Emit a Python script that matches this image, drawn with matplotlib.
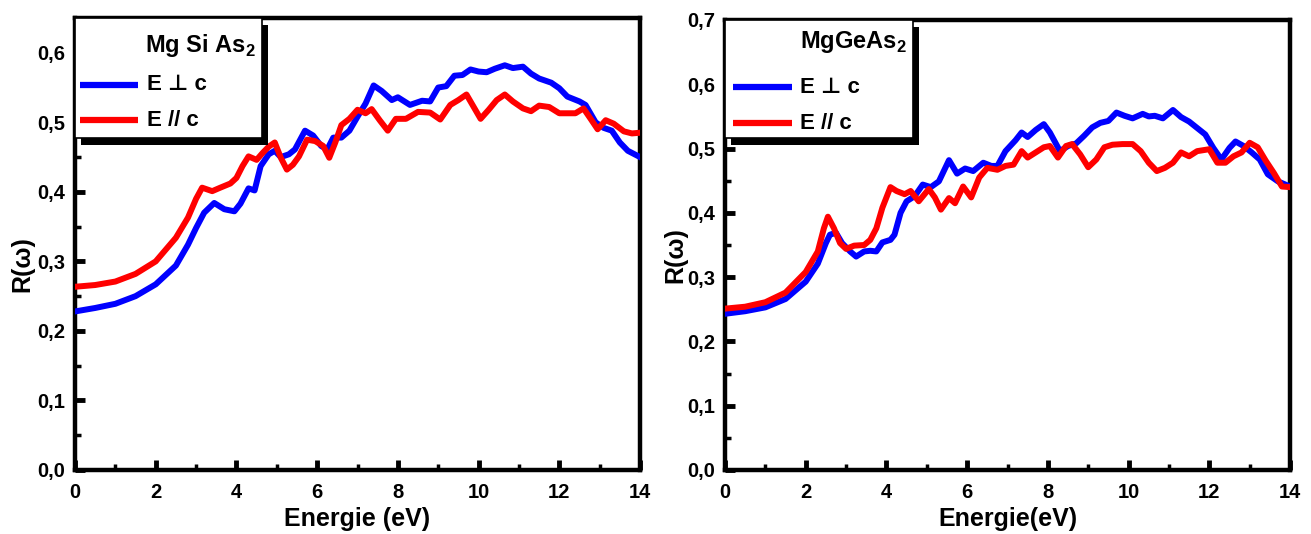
import matplotlib
matplotlib.use("Agg")
import matplotlib.pyplot as plt
from matplotlib.patches import Rectangle
from matplotlib.ticker import MultipleLocator, FuncFormatter

plt.rcParams["font.family"] = ["Liberation Sans", "DejaVu Sans"]
plt.rcParams["font.weight"] = "bold"
plt.rcParams["mathtext.fontset"] = "custom"
plt.rcParams["mathtext.rm"] = "Liberation Sans:bold"
plt.rcParams["mathtext.bf"] = "Liberation Sans:bold"

BLUE = "#0000ff"
RED = "#ff0000"

# ---- MgSiAs2 -------------------------------------------------------------
si_perp_e = [0, 0.5, 1, 1.5, 2, 2.5, 2.8, 3, 3.2, 3.45, 3.7, 3.95, 4.1, 4.3, 4.45, 4.6,
             4.8, 4.95, 5.1, 5.3, 5.45, 5.7, 5.9, 6.1, 6.25, 6.4, 6.6, 6.8, 7, 7.2, 7.4,
             7.6, 7.85, 8, 8.3, 8.6, 8.8, 9, 9.2, 9.4, 9.6, 9.8, 10, 10.2, 10.4, 10.65,
             10.85, 11.1, 11.3, 11.5, 11.8, 12, 12.2, 12.5, 12.65, 12.9, 13.1, 13.3, 13.5,
             13.7, 14]
si_perp_r = [0.228, 0.233, 0.239, 0.250, 0.267, 0.294, 0.324, 0.348, 0.370, 0.384, 0.375,
             0.372, 0.383, 0.405, 0.402, 0.437, 0.454, 0.459, 0.450, 0.454, 0.461, 0.488,
             0.481, 0.466, 0.461, 0.478, 0.478, 0.488, 0.508, 0.527, 0.553, 0.545, 0.532,
             0.536, 0.525, 0.531, 0.530, 0.550, 0.552, 0.567, 0.568, 0.576, 0.573, 0.572,
             0.577, 0.582, 0.578, 0.580, 0.570, 0.563, 0.557, 0.549, 0.537, 0.530, 0.525,
             0.500, 0.492, 0.488, 0.471, 0.459, 0.450]

si_par_e = [0, 0.5, 1, 1.5, 2, 2.5, 2.8, 3.0, 3.15, 3.4, 3.6, 3.85, 4.0, 4.15, 4.3, 4.5,
            4.65, 4.8, 4.95, 5.1, 5.25, 5.4, 5.55, 5.75, 5.95, 6.15, 6.3, 6.45, 6.6, 6.8,
            7.0, 7.2, 7.35, 7.55, 7.75, 7.95, 8.2, 8.5, 8.8, 9.05, 9.3, 9.5, 9.7, 9.85,
            10.05, 10.25, 10.45, 10.65, 10.85, 11.1, 11.3, 11.5, 11.75, 12.0, 12.2, 12.4,
            12.6, 12.8, 12.95, 13.15, 13.35, 13.6, 13.8, 14]
si_par_r = [0.2635, 0.266, 0.271, 0.282, 0.300, 0.334, 0.363, 0.390, 0.406, 0.401, 0.406,
            0.412, 0.420, 0.437, 0.451, 0.446, 0.456, 0.465, 0.471, 0.449, 0.432, 0.439,
            0.451, 0.475, 0.473, 0.466, 0.449, 0.471, 0.496, 0.505, 0.518, 0.513, 0.519,
            0.503, 0.488, 0.505, 0.505, 0.515, 0.514, 0.504, 0.525, 0.532, 0.540, 0.525,
            0.505, 0.518, 0.532, 0.540, 0.530, 0.520, 0.516, 0.524, 0.522, 0.513, 0.513,
            0.513, 0.520, 0.503, 0.490, 0.503, 0.498, 0.487, 0.484, 0.485]

# ---- MgGeAs2 -------------------------------------------------------------
ge_perp_e = [0, 0.5, 1, 1.5, 2, 2.3, 2.5, 2.6, 2.75, 2.9, 3.1, 3.25, 3.45, 3.6, 3.75, 3.9,
             4.1, 4.2, 4.35, 4.5, 4.7, 4.9, 5.1, 5.3, 5.55, 5.75, 5.95, 6.15, 6.4, 6.6,
             6.75, 6.95, 7.2, 7.35, 7.5, 7.7, 7.9, 8.05, 8.3, 8.5, 8.7, 8.9, 9.1, 9.3, 9.5,
             9.7, 9.9, 10.1, 10.35, 10.5, 10.65, 10.85, 11.1, 11.3, 11.5, 11.7, 11.9, 12.1,
             12.3, 12.5, 12.65, 12.85, 13.05, 13.25, 13.45, 13.7, 14]
ge_perp_r = [0.243, 0.247, 0.253, 0.266, 0.293, 0.321, 0.353, 0.366, 0.369, 0.353, 0.340,
             0.332, 0.340, 0.341, 0.340, 0.354, 0.358, 0.366, 0.400, 0.418, 0.426, 0.444,
             0.440, 0.449, 0.482, 0.461, 0.469, 0.465, 0.478, 0.473, 0.473, 0.496, 0.513,
             0.525, 0.518, 0.529, 0.538, 0.525, 0.496, 0.504, 0.508, 0.520, 0.533, 0.540,
             0.543, 0.556, 0.551, 0.547, 0.554, 0.550, 0.551, 0.547, 0.560, 0.549, 0.542,
             0.532, 0.522, 0.501, 0.483, 0.501, 0.511, 0.504, 0.494, 0.483, 0.460, 0.449,
             0.441]

ge_par_e = [0, 0.5, 1, 1.5, 2, 2.3, 2.45, 2.55, 2.7, 2.85, 3.0, 3.2, 3.45, 3.6, 3.75, 3.9,
            4.1, 4.25, 4.45, 4.6, 4.8, 5.05, 5.2, 5.35, 5.55, 5.7, 5.9, 6.1, 6.3, 6.5, 6.75,
            6.95, 7.15, 7.35, 7.5, 7.7, 7.9, 8.05, 8.25, 8.45, 8.6, 8.8, 9.0, 9.2, 9.4, 9.6,
            9.85, 10.1, 10.3, 10.5, 10.7, 10.9, 11.1, 11.3, 11.5, 11.7, 12.0, 12.2, 12.4,
            12.6, 12.8, 13.0, 13.2, 13.4, 13.6, 13.8, 14]
ge_par_r = [0.251, 0.254, 0.261, 0.276, 0.308, 0.340, 0.376, 0.394, 0.376, 0.353, 0.344,
            0.349, 0.350, 0.358, 0.376, 0.408, 0.440, 0.434, 0.429, 0.434, 0.418, 0.437,
            0.424, 0.405, 0.423, 0.415, 0.441, 0.424, 0.455, 0.470, 0.467, 0.473, 0.475,
            0.496, 0.486, 0.494, 0.502, 0.504, 0.486, 0.504, 0.507, 0.491, 0.471, 0.483,
            0.502, 0.506, 0.507, 0.507, 0.496, 0.478, 0.465, 0.470, 0.478, 0.494, 0.488,
            0.496, 0.499, 0.478, 0.478, 0.488, 0.494, 0.509, 0.502, 0.481, 0.462, 0.441,
            0.440]

labels = ["E \u22a5 c", "E // c"]


def comma_fmt(v, _pos):
    return f"{v:.1f}".replace(".", ",")


def style_axes(ax, ymax, xlabel):
    ax.set_xlim(0, 14)
    ax.set_ylim(0, ymax)
    ax.xaxis.set_major_locator(MultipleLocator(2))
    ax.xaxis.set_minor_locator(MultipleLocator(1))
    ax.yaxis.set_major_locator(MultipleLocator(0.1))
    ax.yaxis.set_minor_locator(MultipleLocator(0.05))
    ax.yaxis.set_major_formatter(FuncFormatter(comma_fmt))
    ax.tick_params(which="major", direction="in", length=7, width=3.5,
                   labelsize=14.5, top=False, right=False)
    ax.tick_params(axis="x", which="major", pad=9)
    ax.tick_params(axis="y", which="major", pad=7)
    ax.tick_params(which="minor", direction="in", length=4, width=2.5,
                   top=False, right=False)
    for s in ax.spines.values():
        s.set_linewidth(3.2)
    ax.set_xlabel(xlabel, fontsize=18, fontweight="bold", labelpad=4)
    ax.set_ylabel("R(\u03c9)", fontsize=18, fontweight="bold")


def draw_key(ax, box_w, box_h, title, title_x, title_y, line_x0, line_x1, ys, label_x):
    # white box with a solid black drop shadow, as in the original figure
    dx, dy = 0.011, 0.016
    ax.add_patch(Rectangle((dx, 1 - box_h - dy), box_w, box_h, transform=ax.transAxes,
                           facecolor="black", edgecolor="none", zorder=5, clip_on=False))
    ax.add_patch(Rectangle((0, 1 - box_h), box_w, box_h, transform=ax.transAxes,
                           facecolor="white", edgecolor="black", linewidth=1.2,
                           zorder=6, clip_on=False))
    ax.text(title_x, title_y, title, transform=ax.transAxes, fontsize=17,
            fontweight="bold", va="center", ha="left", zorder=7)
    for y, color, lab in zip(ys, [BLUE, RED], labels):
        ax.plot([line_x0, line_x1], [y, y], transform=ax.transAxes, color=color,
                linewidth=4.5, solid_capstyle="butt", zorder=7, clip_on=False)
        ax.text(label_x, y, lab, transform=ax.transAxes, fontsize=16,
                fontweight="bold", va="center", ha="left", zorder=7)


fig = plt.figure(figsize=(13.11, 5.34), dpi=100)
ax1 = fig.add_axes([75 / 1311, 64 / 534, 565 / 1311, 452 / 534])
ax2 = fig.add_axes([725 / 1311, 64 / 534, 565 / 1311, 450 / 534])

for ax, pe, pr, qe, qr in [(ax1, si_perp_e, si_perp_r, si_par_e, si_par_r),
                           (ax2, ge_perp_e, ge_perp_r, ge_par_e, ge_par_r)]:
    ax.plot(pe, pr, color=BLUE, linewidth=4.3, solid_joinstyle="round", zorder=3)
    ax.plot(qe, qr, color=RED, linewidth=4.3, solid_joinstyle="round", zorder=3)

style_axes(ax1, 0.65, "Energie (eV)")
style_axes(ax2, 0.70, "Energie(eV)")
ax1.yaxis.set_label_coords(-0.072, 0.456)
ax2.yaxis.set_label_coords(-0.066, 0.478)

draw_key(ax1, 0.331, 0.265, r"Mg Si As$_{\mathbf{2}}$", 0.124, 0.94,
         0.009, 0.111, [0.852, 0.774], 0.127)
draw_key(ax2, 0.333, 0.262, r"MgGeAs$_{\mathbf{2}}$", 0.133, 0.951,
         0.014, 0.119, [0.851, 0.771], 0.133)

fig.savefig("out.png", dpi=100)
